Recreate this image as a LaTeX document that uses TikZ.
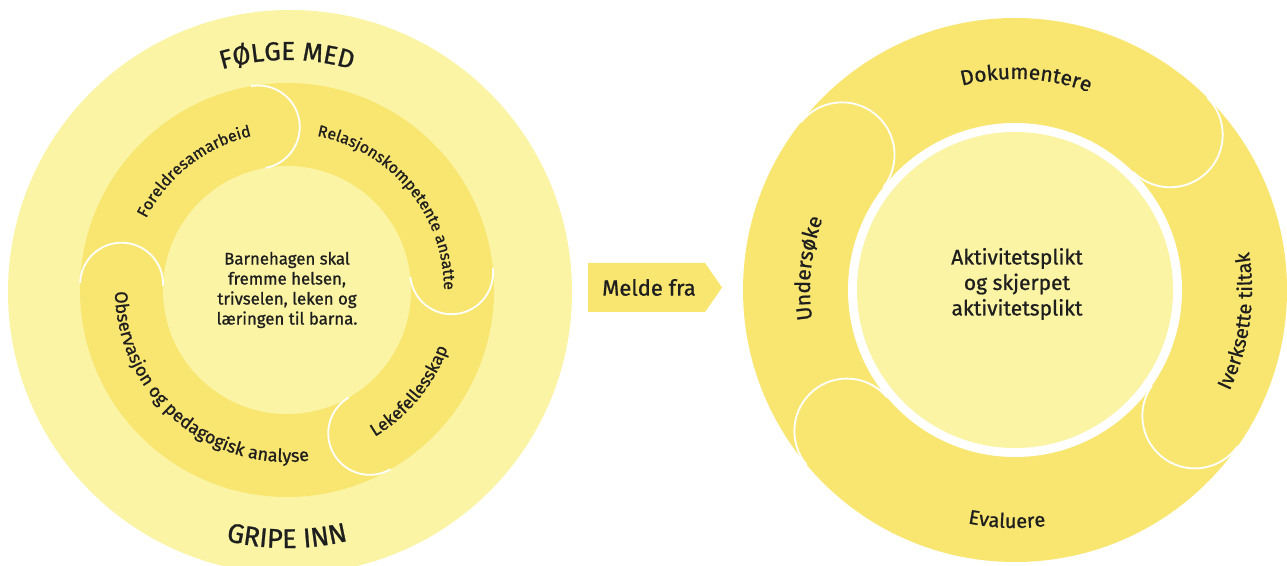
\documentclass[tikz,border=0pt]{standalone}
\usepackage{fontspec}
\setmainfont{Fira Sans}[UprightFeatures={FakeBold=0.9}]
\usetikzlibrary{decorations.text,calc}
\definecolor{lightY}{RGB}{250,244,164}
\definecolor{ringY}{RGB}{249,230,112}
\definecolor{txt}{RGB}{30,30,30}
\tikzset{
  capline/.style={white, line width=1.8pt},
  cwtext/.style n args={2}{decorate, decoration={text along path, text align=center,
      text={|\fontsize{#1}{#1}\selectfont\color{txt}|#2}}},
}
\begin{document}
\begin{tikzpicture}[x=1pt,y=1pt]
\useasboundingbox (0,0) rectangle (1287,565);
% ---------- left figure ----------
\coordinate (L) at (287,275);
\coordinate (LO) at (290,273);
\fill[lightY] (LO) circle[radius=282];
\fill[ringY] (L) circle[radius=207];
\fill[lightY] (L) circle[radius=124];
\foreach \a in {100,6,-60,178}
  \draw[capline] ($(L)+(\a:207)$) arc[start angle=\a, end angle=\a-180, radius=41.5];
% outer texts
\path[cwtext={26}{FØLGE MED}] ($(L)+(160:230)$) arc[start angle=160, end angle=20, radius=230];
\path[cwtext={27}{GRIPE INN}] ($(L)+(200:258)$) arc[start angle=200, end angle=340, radius=258];
% ring texts
\path[cwtext={16}{Foreldresamarbeid}] ($(L)+(200:158)$) arc[start angle=200, end angle=56, radius=158];
\path[cwtext={16}{Relasjonskompetente ansatte}] ($(L)+(120:157)$) arc[start angle=120, end angle=-41, radius=157];
\path[cwtext={17.5}{Lekefellesskap}] ($(L)+(-110:171)$) arc[start angle=-110, end angle=31, radius=171];
\path[cwtext={18}{Observasjon og pedagogisk analyse}] ($(L)+(149:172)$) arc[start angle=149, end angle=309, radius=172];
\node[align=center, text=txt, font=\fontsize{16.8}{20}\selectfont] (ltext) at (287,275) {Barnehagen skal\\fremme helsen,\\trivselen, leken og\\læringen til barna.};
% ---------- arrow ----------
\fill[ringY] (588,302) -- (705,302) -- (722,277.5) -- (705,253) -- (588,253) -- cycle;
\node[text=txt, font=\fontsize{22}{26}\selectfont] (melde) at (649,277.5) {Melde fra};
% ---------- right figure ----------
\coordinate (R) at (1015,275);
\fill[ringY] (R) circle[radius=272];
\fill[white] (R) circle[radius=167];
\fill[lightY] (R) circle[radius=158];
\foreach \a in {142,45,-35,-140}
  \draw[capline] ($(R)+(\a:272)$) arc[start angle=\a, end angle=\a-180, radius=52.5];
\path[cwtext={21}{Dokumentere}] ($(R)+(150:211)$) arc[start angle=150, end angle=24, radius=211];
\path[cwtext={21}{Undersøke}] ($(R)+(230:205)$) arc[start angle=230, end angle=118, radius=205];
\path[cwtext={20}{Iverksette tiltak}] ($(R)+(-62:237)$) arc[start angle=-62, end angle=46, radius=237];
\path[cwtext={20}{Evaluere}] ($(R)+(-140:238)$) arc[start angle=-140, end angle=-44, radius=238];
\node[align=center, text=txt, font=\fontsize{21}{25.5}\selectfont] (rtext) at (1017,281) {Aktivitetsplikt\\og skjerpet\\aktivitetsplikt};
\end{tikzpicture}
\end{document}
